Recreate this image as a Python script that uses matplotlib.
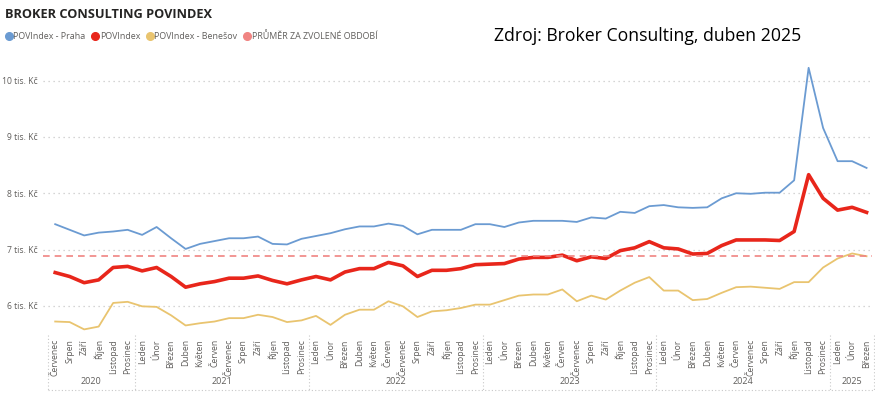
import matplotlib.pyplot as plt
from matplotlib.lines import Line2D

plt.rcParams['font.family'] = ['Open Sans', 'DejaVu Sans']

# mesice cervenec 2020 - brezen 2025
mesice = ["Leden", "Únor", "Březen", "Duben", "Květen", "Červen",
          "Červenec", "Srpen", "Září", "Říjen", "Listopad", "Prosinec"]
roky = ["2020", "2021", "2022", "2023", "2024", "2025"]
pocty = [6, 12, 12, 12, 12, 3]

praha = [7.45, 7.35, 7.25, 7.30, 7.32, 7.35, 7.26, 7.40, 7.20, 7.01, 7.10, 7.15,
         7.20, 7.20, 7.23, 7.10, 7.09, 7.19, 7.24, 7.29, 7.36, 7.41, 7.41, 7.46,
         7.42, 7.27, 7.35, 7.35, 7.35, 7.45, 7.45, 7.40, 7.48, 7.51, 7.51, 7.51,
         7.49, 7.57, 7.55, 7.67, 7.65, 7.77, 7.79, 7.75, 7.74, 7.75, 7.91, 8.00,
         7.99, 8.01, 8.01, 8.23, 10.23, 9.16, 8.57, 8.57, 8.45]
povindex = [6.59, 6.52, 6.41, 6.46, 6.68, 6.70, 6.62, 6.68, 6.52, 6.33, 6.39, 6.43,
            6.49, 6.49, 6.53, 6.45, 6.39, 6.46, 6.52, 6.46, 6.60, 6.66, 6.66, 6.77,
            6.71, 6.52, 6.63, 6.63, 6.66, 6.73, 6.74, 6.75, 6.83, 6.86, 6.86, 6.90,
            6.80, 6.87, 6.84, 6.98, 7.03, 7.14, 7.03, 7.01, 6.92, 6.93, 7.07, 7.17,
            7.17, 7.17, 7.16, 7.32, 8.33, 7.91, 7.70, 7.75, 7.66]
benesov = [5.72, 5.71, 5.58, 5.63, 6.05, 6.07, 5.99, 5.98, 5.83, 5.65, 5.69, 5.72,
           5.78, 5.78, 5.84, 5.80, 5.71, 5.74, 5.82, 5.66, 5.84, 5.93, 5.93, 6.08,
           5.99, 5.80, 5.90, 5.92, 5.96, 6.02, 6.02, 6.10, 6.18, 6.20, 6.20, 6.29,
           6.08, 6.18, 6.11, 6.27, 6.41, 6.51, 6.27, 6.27, 6.10, 6.12, 6.23, 6.33,
           6.34, 6.32, 6.30, 6.42, 6.42, 6.68, 6.84, 6.93, 6.88]
prumer = 6.89

labels = mesice[6:] + mesice * 4 + mesice[:3]
x = list(range(len(labels)))

c_praha = "#6B9BD2"
c_pov = "#E8261B"
c_ben = "#E9C46F"
c_avg = "#F08482"
grey = "#605E5C"

fig = plt.figure(figsize=(8.75, 3.96), dpi=100)
ax = fig.add_axes([0.049, 0.154, 0.948, 0.689])

ax.plot(x, praha, color=c_praha, lw=1.3)
ax.plot(x, benesov, color=c_ben, lw=1.3)
ax.plot(x, povindex, color=c_pov, lw=2.6)
ax.axhline(prumer, color=c_avg, lw=1.2, ls=(0, (4, 3)))

ax.set_xlim(-0.85, 56.4)
ax.set_ylim(5.48, 10.33)
ax.set_yticks([6, 7, 8, 9, 10])
ax.set_yticklabels(["6 tis. Kč", "7 tis. Kč", "8 tis. Kč", "9 tis. Kč", "10 tis. Kč"],
                   fontsize=6.2, color=grey)
ax.yaxis.grid(True, color="#C8C8C8", ls=(0, (1, 3)), lw=0.9)
ax.set_axisbelow(True)

ax.set_xticks(x)
ax.set_xticklabels(labels, rotation=90, fontsize=6.2, color=grey, va="top")
ax.tick_params(axis="both", length=0)
ax.tick_params(axis="x", pad=3)
ax.tick_params(axis="y", pad=3.5)
for s in ax.spines.values():
    s.set_visible(False)

# skupiny roku pod osou
start = 0
hranice = [-0.5]
for rok, n in zip(roky, pocty):
    stred = start + (n - 1) / 2
    ax.text(stred, -0.172, rok, transform=ax.get_xaxis_transform(),
            ha="center", va="center", fontsize=6.5, color=grey)
    start += n
    hranice.append(start - 0.5)
for h in hranice:
    ax.plot([h, h], [0, -0.2], transform=ax.get_xaxis_transform(), clip_on=False,
            color="#C8C8C8", lw=0.8, ls=(0, (1, 2)))
ax.plot([-0.5, 56.5], [-0.2, -0.2], transform=ax.get_xaxis_transform(), clip_on=False,
        color="#C8C8C8", lw=0.8, ls=(0, (1, 2)))

fig.text(0.006, 0.963, "BROKER CONSULTING POVINDEX", fontsize=9.2, fontweight="bold",
         color="#252423", va="center", ha="left")
fig.text(0.565, 0.908, "Zdroj: Broker Consulting, duben 2025", fontsize=12.7,
         color="black", va="center", ha="left")

handles = [Line2D([], [], marker="o", ls="", color=c, markersize=5.5)
           for c in [c_praha, c_pov, c_ben, c_avg]]
names = ["POVIndex - Praha", "POVIndex", "POVIndex - Benešov", "PRŮMĚR ZA ZVOLENÉ OBDOBÍ"]
leg = fig.legend(handles, names, loc="center left", bbox_to_anchor=(0.0, 0.909),
                 ncol=4, frameon=False, fontsize=6.4, handletextpad=-0.1,
                 columnspacing=0.5, borderaxespad=0, handlelength=1.2)
for t in leg.get_texts():
    t.set_color(grey)

fig.savefig("out.png", dpi=100)
